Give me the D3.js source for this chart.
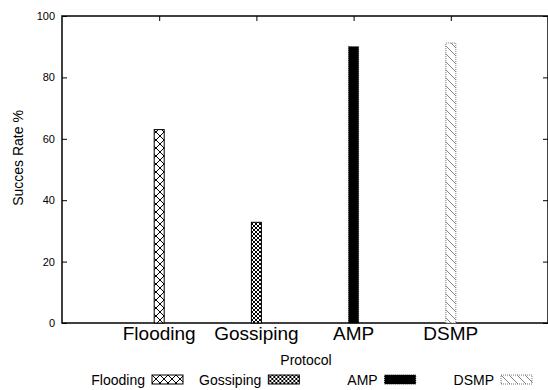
<!DOCTYPE html>
<html lang="en">
  <head>
    <meta charset="utf-8" />
    <title>Succes Rate by Protocol</title>
    <script type="text/javascript" src="https://cdn.jsdelivr.net/npm/d3@7/dist/d3.min.js"></script>
    <style>
      body { margin: 0; background: #fff; }
      text { font-family: "Liberation Sans", Arial, sans-serif; }
    </style>
  </head>
  <body>
    <script>
      var protocols = ["Flooding", "Gossiping", "AMP", "DSMP"]
      var successRate = [63, 32.8, 90, 91.2]
      var yTicks = [0, 20, 40, 60, 80, 100]
      var fills = ["url(#cross)", "url(#crossFine)", "#000", "url(#diag)"]

      var width = 548, height = 390
      var margin = {top: 16, right: 0, bottom: 67, left: 62}
      var plotW = width - margin.left - margin.right
      var plotH = height - margin.top - margin.bottom

      var svg = d3.select("body").append("svg")
                  .attr("width", width)
                  .attr("height", height)

      // gnuplot-ish fill patterns
      var defs = svg.append("defs")
      var p1 = defs.append("pattern").attr("id", "cross")
                   .attr("patternUnits", "userSpaceOnUse")
                   .attr("width", 8).attr("height", 8)
      p1.append("rect").attr("width", 8).attr("height", 8).attr("fill", "#fff")
      p1.append("path").attr("d", "M0,0L8,8M8,0L0,8")
        .attr("stroke", "#000").attr("stroke-width", 1)

      var p2 = defs.append("pattern").attr("id", "crossFine")
                   .attr("patternUnits", "userSpaceOnUse")
                   .attr("width", 4).attr("height", 4)
      p2.append("rect").attr("width", 4).attr("height", 4).attr("fill", "#fff")
      p2.append("path").attr("d", "M0,0L4,4M4,0L0,4")
        .attr("stroke", "#000").attr("stroke-width", 1)

      var p3 = defs.append("pattern").attr("id", "diag")
                   .attr("patternUnits", "userSpaceOnUse")
                   .attr("width", 8).attr("height", 8)
      p3.append("rect").attr("width", 8).attr("height", 8).attr("fill", "#fff")
      p3.append("path").attr("d", "M-2,-2L10,10M-2,6L2,10M6,-2L10,2")
        .attr("stroke", "#666").attr("stroke-width", 0.8)

      var xScale = d3.scaleLinear()
                     .domain([0, protocols.length + 1])
                     .range([margin.left, margin.left + plotW])
      var yScale = d3.scaleLinear()
                     .domain([0, 100])
                     .range([margin.top + plotH, margin.top])

      var barW = 10

      // frame (right side sits on the window edge)
      svg.append("rect")
         .attr("x", margin.left).attr("y", margin.top)
         .attr("width", plotW).attr("height", plotH)
         .attr("fill", "none").attr("stroke", "#111").attr("stroke-width", 1.6)

      // y axis, ticks pointing inward
      svg.append("g")
         .attr("transform", "translate(" + margin.left + ",0)")
         .call(d3.axisRight(yScale).tickValues(yTicks).tickSize(5).tickFormat(""))
         .call(function(g) { g.select(".domain").remove() })
      svg.append("g")
         .attr("transform", "translate(" + (margin.left + plotW) + ",0)")
         .call(d3.axisLeft(yScale).tickValues(yTicks).tickSize(5).tickFormat(""))
         .call(function(g) { g.select(".domain").remove() })

      svg.selectAll(".ylab")
         .data(yTicks)
         .enter().append("text")
           .attr("x", margin.left - 7)
           .attr("y", function(d) { return yScale(d) + 4 })
           .attr("text-anchor", "end")
           .style("font-size", "11px")
           .text(function(d) { return d })

      // top x ticks
      svg.append("g")
         .attr("transform", "translate(0," + margin.top + ")")
         .call(d3.axisBottom(xScale).tickValues(d3.range(1, protocols.length + 1)).tickSize(5).tickFormat(""))
         .call(function(g) { g.select(".domain").remove() })

      // bars
      svg.selectAll(".bar")
         .data(successRate)
         .enter().append("rect")
           .attr("class", "bar")
           .attr("x", function(d, i) { return xScale(i + 1) - barW / 2 })
           .attr("y", function(d) { return yScale(d) })
           .attr("width", barW)
           .attr("height", function(d) { return yScale(0) - yScale(d) })
           .attr("fill", function(d, i) { return fills[i] })
           .attr("stroke", function(d, i) { return i == 3 ? "#777" : "#000" })
           .attr("stroke-width", 1)
           .attr("stroke-dasharray", function(d, i) { return i >= 2 ? "1,1" : null })

      // category labels
      svg.selectAll(".xlab")
         .data(protocols)
         .enter().append("text")
           .attr("x", function(d, i) { return xScale(i + 1) })
           .attr("y", margin.top + plotH + 17)
           .attr("text-anchor", "middle")
           .style("font-size", "19px")
           .text(function(d) { return d })

      svg.append("text")
         .attr("x", margin.left + plotW / 2 + 1)
         .attr("y", 365)
         .attr("text-anchor", "middle")
         .style("font-size", "14px")
         .text("Protocol")

      svg.append("text")
         .attr("transform", "translate(23,158) rotate(-90)")
         .attr("text-anchor", "middle")
         .style("font-size", "14px")
         .text("Succes Rate %")

      // legend
      var legendX = d3.scaleLinear().domain([0, protocols.length - 1]).range([152, 501])
      var legend = svg.selectAll(".leg")
         .data(protocols)
         .enter().append("g")
           .attr("transform", function(d, i) { return "translate(" + legendX(i) + ",375)" })
      legend.append("text")
            .attr("x", -7)
            .attr("y", 10)
            .attr("text-anchor", "end")
            .style("font-size", "14px")
            .text(function(d) { return d })
      legend.append("rect")
            .attr("width", 31).attr("height", 9)
            .attr("fill", function(d, i) { return fills[i] })
            .attr("stroke", function(d, i) { return i == 3 ? "#777" : "#000" })
            .attr("stroke-width", 1)
            .attr("stroke-dasharray", function(d, i) { return i >= 2 ? "1,1" : null })
    </script>
  </body>
</html>
